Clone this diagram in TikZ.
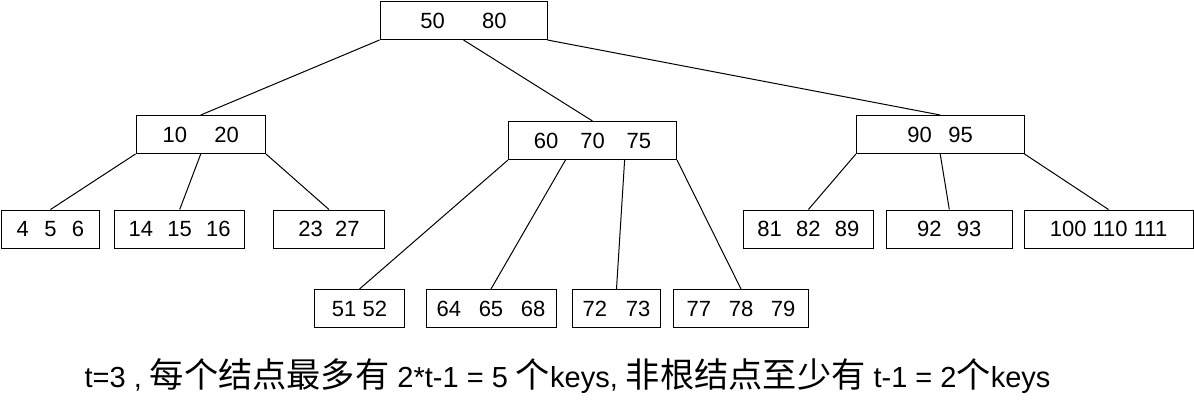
\documentclass[tikz,border=0pt]{standalone}
\usepackage{fontspec}
\setmainfont{Liberation Sans}
\newfontfamily\cjk[Scale=1.18]{Noto Sans CJK SC}
\usepackage{tikz}
\usetikzlibrary{calc}

\newcommand{\kgap}[1]{\hspace{#1em}}

\tikzset{
  keybox/.style={draw, line width=0.75pt, minimum height=28.5pt, inner sep=0pt, font=\fontsize{16.5}{19}\selectfont},
  link/.style={line width=0.75pt},
  note/.style={inner sep=0pt, anchor=base, font=\fontsize{21.75}{26}\selectfont}
}

\begin{document}
\begin{tikzpicture}[x=0.75pt, y=-0.75pt]
\useasboundingbox (0,0) rectangle (1194,404);
%
\node [keybox, minimum width=125.25pt] (root) at (463.5, 20.5) {50\kgap{1.7}80};
%
\node [keybox, minimum width=97.1pt] (left) at (200.75, 134.5) {10\kgap{1.25}20};
\node [keybox, minimum width=126pt] (mid) at (592.5, 140.5) {60\kgap{1}70\kgap{1}75};
\node [keybox, minimum width=125.7pt] (right) at (940.2, 134.5) {90\kgap{0.75}95};
%
\node [keybox, minimum width=73.5pt] (l1) at (50.5, 229) {4\kgap{0.7}5\kgap{0.7}6};
\node [keybox, minimum width=97.3pt] (l2) at (179.7, 229) {14\kgap{0.65}15\kgap{0.65}16};
\node [keybox, minimum width=83.5pt] (l3) at (329, 229) {23\kgap{0.55}27};
\node [keybox, minimum width=97.7pt] (r1) at (808.4, 229) {81\kgap{0.65}82\kgap{0.65}89};
\node [keybox, minimum width=94.9pt] (r2) at (949.3, 229) {92\kgap{0.7}93};
\node [keybox, minimum width=126.75pt] (r3) at (1108.5, 229) {100 110 111};
%
\node [keybox, minimum width=67.5pt] (m1) at (359.5, 308.5) {51 52};
\node [keybox, minimum width=97.5pt] (m2) at (491, 308.5) {64\kgap{0.8}65\kgap{0.8}68};
\node [keybox, minimum width=66pt] (m3) at (616.5, 308.5) {72\kgap{0.85}73};
\node [keybox, minimum width=101.3pt] (m4) at (741, 308.5) {77\kgap{0.8}78\kgap{0.8}79};
%
\draw [link] (root.south west) -- (left.north);
\draw [link] (root.south) -- (mid.north);
\draw [link] (root.south east) -- (right.north);
%
\draw [link] (left.south west) -- (l1.north);
\draw [link] (left.south) -- (l2.north);
\draw [link] (left.south east) -- (l3.north);
%
\draw [link] (mid.south west) -- (m1.north);
\draw [link] ($(mid.south west)!0.34!(mid.south east)$) -- (m2.north);
\draw [link] ($(mid.south west)!0.69!(mid.south east)$) -- (m3.north);
\draw [link] (mid.south east) -- (m4.north);
%
\draw [link] (right.south west) -- (r1.north);
\draw [link] (right.south) -- (r2.north);
\draw [link] (right.south east) -- (r3.north);
%%%%%%%%%%%%%%%%%%%%%%%%%%%%%%%
\node [note] (rule) at (567.5, 387) {t=3 , {\cjk 每个结点最多有} 2*t-1 = 5 {\cjk 个}keys, {\cjk 非根结点至少有} t-1 = 2{\cjk 个}keys};
\end{tikzpicture}
\end{document}
